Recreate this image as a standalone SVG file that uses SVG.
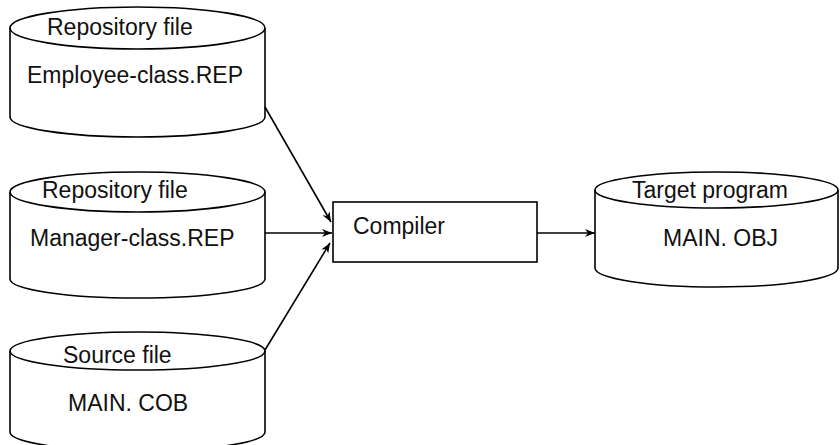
<svg xmlns="http://www.w3.org/2000/svg" width="840" height="445" viewBox="0 0 840 445">
<style>
.s{fill:none;stroke:#000;stroke-width:1.6}
.t{font-family:"Liberation Sans",Arial,sans-serif;font-size:23px;fill:#111}
</style>
<defs>
<marker id="ah" viewBox="0 0 10 10" refX="10" refY="5" markerWidth="10" markerHeight="10" markerUnits="userSpaceOnUse" orient="auto">
<path d="M0,1 L10,5 L0,9 L3,5 Z" fill="#000"/>
</marker>
</defs>
<rect width="840" height="445" fill="#fff"/>
<g id="repo-employee">
<ellipse class="s" cx="137.5" cy="28" rx="127.5" ry="21"/>
<path class="s" d="M10,28 V117 A127.5,20 0 0 0 265,117 V28"/>
<text class="t" x="47" y="35">Repository file</text>
<text class="t" x="27" y="83">Employee-class.REP</text>
</g>
<g id="repo-manager">
<ellipse class="s" cx="137.5" cy="192" rx="127.5" ry="20"/>
<path class="s" d="M10,192 V279 A127.5,19 0 0 0 265,279 V192"/>
<text class="t" x="42" y="198">Repository file</text>
<text class="t" x="30" y="246">Manager-class.REP</text>
</g>
<g id="source">
<ellipse class="s" cx="137.5" cy="351" rx="127.5" ry="19"/>
<path class="s" d="M10,351 V432 A127.5,19 0 0 0 265,432 V351"/>
<text class="t" x="63" y="363">Source file</text>
<text class="t" x="68" y="411">MAIN. COB</text>
</g>
<g id="compiler">
<rect class="s" x="333" y="202" width="204" height="60"/>
<text class="t" x="353" y="234">Compiler</text>
</g>
<g id="target">
<ellipse class="s" cx="716.5" cy="190" rx="121.5" ry="18"/>
<path class="s" d="M595,190 V268 A121.5,19 0 0 0 838,268 V190"/>
<text class="t" x="632" y="198">Target program</text>
<text class="t" x="663" y="246">MAIN. OBJ</text>
</g>
<g id="connectors">
<line class="s" x1="265" y1="107" x2="331" y2="222" marker-end="url(#ah)"/>
<line class="s" x1="265" y1="233" x2="332" y2="233" marker-end="url(#ah)"/>
<line class="s" x1="265" y1="350" x2="330" y2="243" marker-end="url(#ah)"/>
<line class="s" x1="537" y1="233" x2="595" y2="233" marker-end="url(#ah)"/>
</g>
</svg>
